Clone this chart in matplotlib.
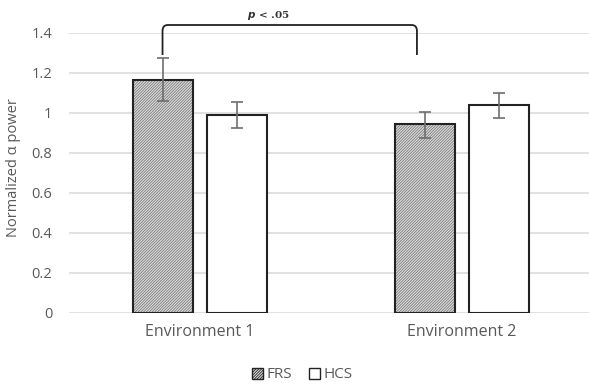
import matplotlib.pyplot as plt
from matplotlib.patches import Patch
from matplotlib.path import Path
from matplotlib.patches import PathPatch
import numpy as np

plt.rcParams['font.family'] = ['Open Sans', 'DejaVu Sans']
plt.rcParams['hatch.linewidth'] = 0.6

categories = ['Environment 1', 'Environment 2']
frs = [1.165, 0.945]
frs_lo = [1.06, 0.875]
frs_hi = [1.275, 1.005]
hcs = [0.99, 1.04]
hcs_lo = [0.925, 0.975]
hcs_hi = [1.055, 1.10]
yticks = [0, 0.2, 0.4, 0.6, 0.8, 1, 1.2, 1.4]
ytick_labels = ['0', '0.2', '0.4', '0.6', '0.8', '1', '1.2', '1.4']

fig = plt.figure(figsize=(5.89, 3.85), dpi=100)
ax = fig.add_axes([69 / 589, 1 - 313 / 385, 524 / 589, 280 / 385])

x = np.arange(len(categories))
w = 0.229
off = 0.143
grey_txt = '#595959'
hatch = '/' * 12

# FRS bars: hatched fill first, black outline on top
ax.bar(x - off, frs, w, color='#dedede', edgecolor='#7a7a7a', hatch=hatch,
       linewidth=0, zorder=2)
ax.bar(x - off, frs, w, fill=False, edgecolor='#222222', linewidth=1.5, zorder=3)
ax.bar(x + off, hcs, w, color='white', edgecolor='#222222', linewidth=1.5, zorder=3)

err_f = [np.array(frs) - np.array(frs_lo), np.array(frs_hi) - np.array(frs)]
err_h = [np.array(hcs) - np.array(hcs_lo), np.array(hcs_hi) - np.array(hcs)]
ax.errorbar(x - off, frs, yerr=err_f, fmt='none', ecolor='#6e6e6e', elinewidth=1.2,
            capsize=4, capthick=1.2, zorder=4)
ax.errorbar(x + off, hcs, yerr=err_h, fmt='none', ecolor='#6e6e6e', elinewidth=1.2,
            capsize=4, capthick=1.2, zorder=4)

ax.set_xlim(-0.5, 1.5)
ax.set_ylim(0, 1.4)
ax.set_yticks(yticks)
ax.set_yticklabels(ytick_labels)
ax.set_xticks(x)
ax.set_xticklabels(categories)
ax.tick_params(axis='y', length=0, colors=grey_txt, labelsize=10.5, pad=12)
ax.tick_params(axis='x', length=0, colors=grey_txt, labelsize=11.5, pad=8)
ax.yaxis.grid(True, color='#d9d9d9', linewidth=1.1)
ax.set_axisbelow(True)
for s in ax.spines.values():
    s.set_visible(False)
ax.set_ylabel('Normalized α power', color=grey_txt, fontsize=10.5)
ax.yaxis.set_label_coords(-0.092, 0.52)

# significance bracket
x0, x1 = -off, 0.828
yb, yt, r = 1.29, 1.44, 0.03
verts = [(x0, yb), (x0, yt - r), (x0, yt), (x0 + 0.02, yt),
         (x1 - 0.02, yt), (x1, yt), (x1, yt - r), (x1, yb)]
codes = [Path.MOVETO, Path.LINETO, Path.CURVE3, Path.CURVE3,
         Path.LINETO, Path.CURVE3, Path.CURVE3, Path.LINETO]
ax.add_patch(PathPatch(Path(verts, codes), fill=False, edgecolor='#222222',
                       linewidth=1.3, clip_on=False, zorder=5))
ax.text(0.26, 1.49, r'$\boldsymbol{p}$ < .05', ha='center', va='center',
        fontsize=7.5, fontweight='bold', family='DejaVu Serif', color='#333333')

handles = [Patch(facecolor='#dedede', edgecolor='#222222', hatch=hatch, label='FRS'),
           Patch(facecolor='white', edgecolor='#222222', label='HCS')]
leg = fig.legend(handles=handles, loc='center', bbox_to_anchor=(0.513, 1 - 375 / 385),
                 ncol=2, frameon=False, fontsize=11, handlelength=0.75, handleheight=0.75,
                 handletextpad=0.2, columnspacing=1.1)
for t in leg.get_texts():
    t.set_color(grey_txt)

fig.savefig('out.png', dpi=100)
